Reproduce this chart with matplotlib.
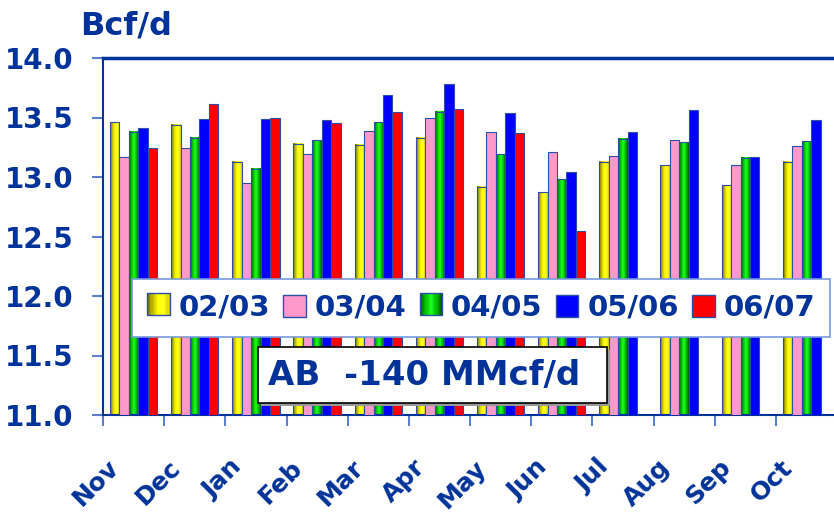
import numpy as np
import matplotlib
matplotlib.use('Agg')
import matplotlib.pyplot as plt
from matplotlib.patches import Rectangle
from matplotlib.legend_handler import HandlerBase
from matplotlib.colors import LinearSegmentedColormap
from matplotlib.transforms import ScaledTranslation

months = ['Nov', 'Dec', 'Jan', 'Feb', 'Mar', 'Apr', 'May', 'Jun', 'Jul', 'Aug', 'Sep', 'Oct']
seasons = ['02/03', '03/04', '04/05', '05/06', '06/07']

s0203 = [13.46, 13.44, 13.13, 13.28, 13.27, 13.33, 12.92, 12.87, 13.13, 13.10, 12.93, 13.13]
s0304 = [13.17, 13.24, 12.95, 13.19, 13.39, 13.50, 13.38, 13.21, 13.18, 13.31, 13.10, 13.26]
s0405 = [13.38, 13.33, 13.07, 13.31, 13.46, 13.55, 13.19, 12.98, 13.32, 13.29, 13.16, 13.30]
s0506 = [13.41, 13.49, 13.49, 13.48, 13.69, 13.78, 13.54, 13.04, 13.38, 13.56, 13.17, 13.48]
s0607 = [13.24, 13.61, 13.50, 13.45, 13.55, 13.57, 13.37, 12.55, np.nan, np.nan, np.nan, np.nan]
series = [s0203, s0304, s0405, s0506, s0607]

navy = '#003399'
edge = '#2a4fa8'
tickc = '#5a7fd0'

yellow_cm = LinearSegmentedColormap.from_list('y', ['#6e6600', '#c8c000', '#ffff00', '#ffff20', '#d8d000'])
green_cm = LinearSegmentedColormap.from_list('g', ['#005a00', '#00c000', '#20ff20', '#00c000', '#005a00'])
fills = [yellow_cm, '#ff99cc', green_cm, '#0000ff', '#ff0000']


class GradHandler(HandlerBase):
    def __init__(self, cmap):
        super().__init__()
        self.cmap = cmap

    def create_artists(self, legend, orig, xd, yd, w, h, fs, trans):
        n = 20
        arts = []
        for i in range(n):
            arts.append(Rectangle((xd + w * i / n, yd), w / n * 1.05, h,
                                  facecolor=self.cmap(i / (n - 1)), edgecolor='none', transform=trans))
        arts.append(Rectangle((xd, yd), w, h, fill=False, edgecolor=edge, lw=1, transform=trans))
        return arts


fig = plt.figure(figsize=(8.34, 5.13), dpi=100)
ax = fig.add_axes([103 / 834, 1 - 415 / 513, 734 / 834, 357 / 513])

x = np.arange(len(months))
bw = 0.155
grad = np.linspace(0, 1, 64)[np.newaxis, :]
handles = []
hmap = {}
for k, (vals, fc) in enumerate(zip(series, fills)):
    pos = x + (k - 2) * bw
    if isinstance(fc, str):
        bars = ax.bar(pos, vals, bw, color=fc, edgecolor=edge, linewidth=0.8, zorder=3)
        handles.append(Rectangle((0, 0), 1, 1, facecolor=fc, edgecolor=edge, lw=1))
    else:
        bars = ax.bar(pos, vals, bw, facecolor='none', edgecolor=edge, linewidth=0.8, zorder=3)
        for b in bars:
            ax.imshow(grad, cmap=fc, aspect='auto', zorder=2,
                      extent=[b.get_x(), b.get_x() + b.get_width(), 0, b.get_height()])
        h = Rectangle((0, 0), 1, 1)
        handles.append(h)
        hmap[h] = GradHandler(fc)

ax.set_xlim(-0.5, len(months) - 0.5)
ax.set_ylim(11.0, 14.0)

ax.set_yticks([11.0, 11.5, 12.0, 12.5, 13.0, 13.5, 14.0])
ax.set_yticklabels(['%.1f' % v for v in ax.get_yticks()])
ax.tick_params(axis='y', length=8, width=1.5, color=tickc, pad=13,
               labelsize=20, labelcolor=navy)
for t in ax.get_yticklabels():
    t.set_fontweight('bold')

ax.set_xticks(np.arange(len(months) + 1) - 0.5)
ax.set_xticklabels([])
ax.tick_params(axis='x', which='major', length=8, width=1.5, color=tickc)
ax.set_xticks(x, minor=True)
ax.set_xticklabels(months, minor=True, rotation=45, ha='right', va='center',
                   rotation_mode='anchor', fontsize=18, fontweight='bold', color=navy)
ax.tick_params(axis='x', which='minor', length=0, pad=35)
off = ScaledTranslation(-18 / 100, 0, fig.dpi_scale_trans)
for t in ax.get_xticklabels(minor=True):
    t.set_transform(t.get_transform() + off)

for sp in ['left', 'bottom']:
    ax.spines[sp].set_color(navy)
    ax.spines[sp].set_linewidth(1.5)
ax.spines['top'].set_color(navy)
ax.spines['top'].set_linewidth(2.5)
ax.spines['right'].set_visible(False)

fig.text(80 / 834, 1 - 35 / 513, 'Bcf/d', fontsize=23, fontweight='bold', color=navy, va='baseline')

leg = ax.legend(handles, seasons, handler_map=hmap, ncol=5, loc='center',
                bbox_to_anchor=(481 / 834, 1 - 308 / 513), bbox_transform=fig.transFigure,
                fontsize=21, handlelength=0.78, handleheight=0.78, handletextpad=0.3,
                columnspacing=0.45, borderpad=0.5, fancybox=False, framealpha=1,
                edgecolor='#7799dd', borderaxespad=0)
for t in leg.get_texts():
    t.set_color(navy)
    t.set_fontweight('bold')
leg.get_frame().set_linewidth(1.2)
leg.set_zorder(10)

# note box
fig.patches.append(Rectangle((261 / 834, 1 - 406 / 513), 349 / 834, 56 / 513,
                             transform=fig.transFigure, facecolor='#999999', edgecolor='none', zorder=11))
fig.patches.append(Rectangle((258 / 834, 1 - 403 / 513), 349 / 834, 56 / 513,
                             transform=fig.transFigure, facecolor='white', edgecolor='black', lw=1.2, zorder=12))
fig.text(268 / 834, 1 - 375 / 513, 'AB  -140 MMcf/d', fontsize=24.5, fontweight='bold',
         color=navy, va='center', ha='left', zorder=13)

fig.savefig('out.png', dpi=100)
